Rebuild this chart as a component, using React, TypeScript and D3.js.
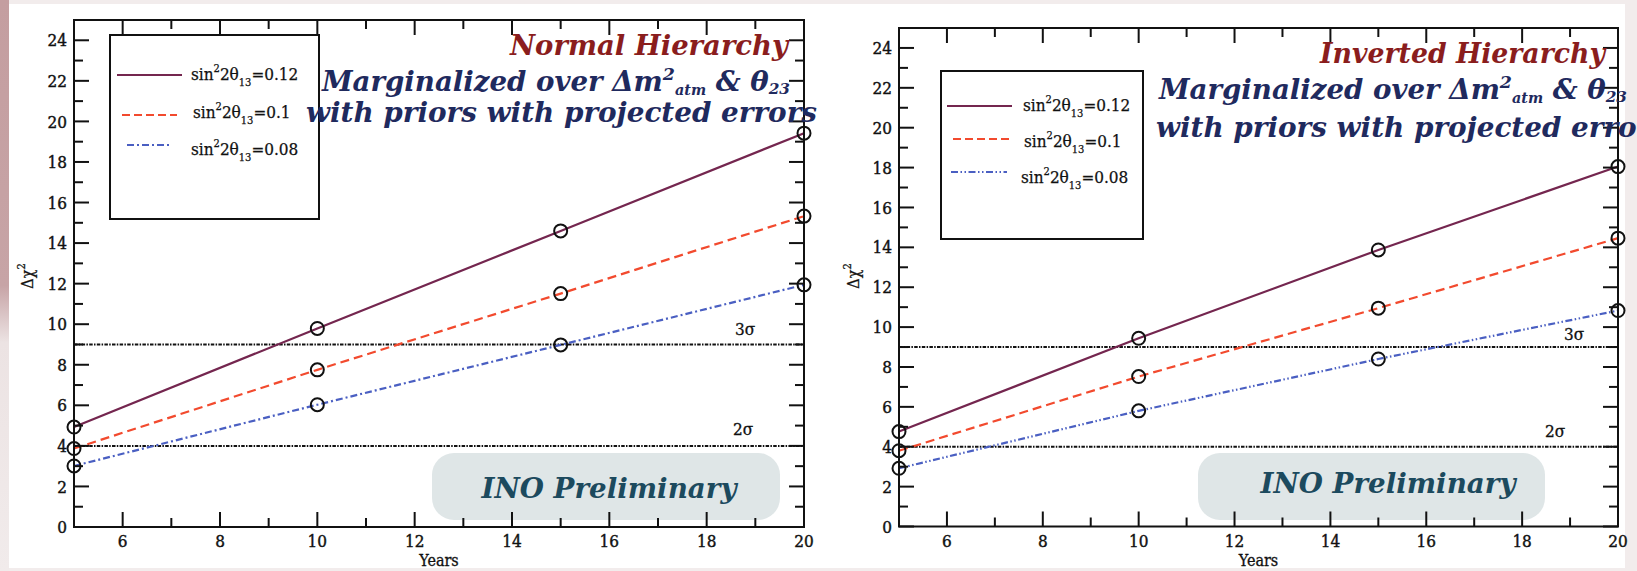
import React from "react";
import * as d3 from "d3";

const years = [5, 10, 15, 20];
const nh012 = [4.93, 9.79, 14.6, 19.42];
const nh010 = [3.87, 7.75, 11.51, 15.33];
const nh008 = [3.01, 6.03, 8.98, 11.94];
const ih012 = [4.76, 9.44, 13.87, 18.05];
const ih010 = [3.8, 7.52, 10.95, 14.46];
const ih008 = [2.92, 5.8, 8.4, 10.83];
const seriesLabels = ["0.12", "0.1", "0.08"];
const sigmaLevels = [9, 4];
const sigmaLabels = ["3σ", "2σ"];
const xMajor = [6, 8, 10, 12, 14, 16, 18, 20];
const xMinor = [7, 9, 11, 13, 15, 17, 19];
const yMajor = [0, 2, 4, 6, 8, 10, 12, 14, 16, 18, 20, 22, 24];
const yMinor = [1, 3, 5, 7, 9, 11, 13, 15, 17, 19, 21, 23];
const xLabel = "Years";

const TICK_FONT = "'DejaVu Serif Condensed', 'DejaVu Serif', serif";
const TITLE_FONT = "'DejaVu Serif', serif";
const COLORS = ["#74264f", "#f24a2e", "#4a5fc2"];

type PanelProps = {
  title: string;
  data: number[][];
  xr: [number, number];
  yr: [number, number];
  legendBox: [number, number, number, number];
  legendRows: { lx0: number; lx1: number; ly: number; tx: number; ty: number }[];
  dash008: string;
  titleRight: number;
  line2Right: number;
  line3Right: number;
  titleY: number[];
  titleW: number;
  sigmaPos: [number, number][];
  ino: { x0: number; x1: number; y0: number; y1: number; tx: number; ty: number };
  yTitleX: number;
};

function LegendText({ x, y, v }: { x: number; y: number; v: string }) {
  return (
    <text x={x} y={y} fontFamily={TICK_FONT} fontSize={17} fill="#111" stroke="#111" strokeWidth={0.25}>
      <tspan>sin</tspan>
      <tspan dy={-8} fontSize={11}>2</tspan>
      <tspan dy={8}>2θ</tspan>
      <tspan dy={6} fontSize={11}>13</tspan>
      <tspan dy={-6}>={v}</tspan>
    </text>
  );
}

function Panel(p: PanelProps) {
  const x = d3.scaleLinear().domain([5, 20]).range(p.xr);
  const y = d3.scaleLinear().domain([0, 25]).range(p.yr);
  const line = d3
    .line<number>()
    .x((_, i) => x(years[i]))
    .y((d) => y(d));
  const dashes = ["none", "9,5", p.dash008];
  const [x0, x1] = p.xr;
  const [yb, yt] = p.yr;
  const mid = (x0 + x1) / 2;
  return (
    <g>
      {sigmaLevels.map((s, i) => (
        <g key={"s" + i}>
          <line x1={x0} x2={x1} y1={y(s)} y2={y(s)} stroke="#111" strokeWidth={2} strokeDasharray="3.5,1.3,1.5,1.3" />
          <text x={p.sigmaPos[i][0]} y={p.sigmaPos[i][1]} textAnchor="middle" fontFamily={TICK_FONT} fontSize={17} fill="#111" stroke="#111" strokeWidth={0.3}>
            {sigmaLabels[i]}
          </text>
        </g>
      ))}
      <rect x={p.ino.x0} y={p.ino.y0} width={p.ino.x1 - p.ino.x0} height={p.ino.y1 - p.ino.y0} rx={22} ry={22} fill="#dfe6e7" />
      <text x={p.ino.tx} y={p.ino.ty} textAnchor="middle" fontFamily={TITLE_FONT} fontWeight="bold" fontStyle="italic" fontSize={28} fill="#1c4a5e" textLength={255} lengthAdjust="spacingAndGlyphs">
        INO Preliminary
      </text>
      {p.data.map((d, i) => (
        <path key={"l" + i} d={line(d) || ""} fill="none" stroke={COLORS[i]} strokeWidth={2.2} strokeDasharray={dashes[i]} />
      ))}
      {p.data.map((d, i) =>
        d.map((v, j) => (
          <circle key={"c" + i + "-" + j} cx={x(years[j])} cy={y(v)} r={6.5} fill="none" stroke="#111" strokeWidth={2} />
        ))
      )}
      <rect x={x0} y={yt} width={x1 - x0} height={yb - yt} fill="none" stroke="#111" strokeWidth={2} />
      {xMajor.map((t) => (
        <g key={"xm" + t}>
          <line x1={x(t)} x2={x(t)} y1={yb} y2={yb - 15} stroke="#111" strokeWidth={2} />
          <line x1={x(t)} x2={x(t)} y1={yt} y2={yt + 15} stroke="#111" strokeWidth={2} />
          <text x={x(t)} y={547} textAnchor="middle" fontFamily={TICK_FONT} fontSize={17} fill="#111" stroke="#111" strokeWidth={0.4}>
            {t}
          </text>
        </g>
      ))}
      {xMinor.map((t) => (
        <g key={"xn" + t}>
          <line x1={x(t)} x2={x(t)} y1={yb} y2={yb - 9} stroke="#111" strokeWidth={2} />
          <line x1={x(t)} x2={x(t)} y1={yt} y2={yt + 9} stroke="#111" strokeWidth={2} />
        </g>
      ))}
      {yMajor.map((t) => (
        <g key={"ym" + t}>
          <line x1={x0} x2={x0 + 15} y1={y(t)} y2={y(t)} stroke="#111" strokeWidth={2} />
          <line x1={x1} x2={x1 - 15} y1={y(t)} y2={y(t)} stroke="#111" strokeWidth={2} />
          <text x={x0 - 7} y={y(t)} dy="0.36em" textAnchor="end" fontFamily={TICK_FONT} fontSize={17} fill="#111" stroke="#111" strokeWidth={0.4}>
            {t}
          </text>
        </g>
      ))}
      {yMinor.map((t) => (
        <g key={"yn" + t}>
          <line x1={x0} x2={x0 + 9} y1={y(t)} y2={y(t)} stroke="#111" strokeWidth={2} />
          <line x1={x1} x2={x1 - 9} y1={y(t)} y2={y(t)} stroke="#111" strokeWidth={2} />
        </g>
      ))}
      <text x={mid} y={566} textAnchor="middle" fontFamily={TICK_FONT} fontSize={16} fill="#111" stroke="#111" strokeWidth={0.3}>
        {xLabel}
      </text>
      <text transform={`translate(${p.yTitleX},276) rotate(-90)`} textAnchor="middle" fontFamily={TICK_FONT} fontSize={16} fill="#111" stroke="#111" strokeWidth={0.3}>
        <tspan>Δχ</tspan>
        <tspan dy={-8} fontSize={11}>2</tspan>
      </text>
      <rect x={p.legendBox[0]} y={p.legendBox[1]} width={p.legendBox[2] - p.legendBox[0]} height={p.legendBox[3] - p.legendBox[1]} fill="#fff" stroke="#111" strokeWidth={2} />
      {p.legendRows.map((r, i) => (
        <g key={"lg" + i}>
          <line x1={r.lx0} x2={r.lx1} y1={r.ly} y2={r.ly} stroke={COLORS[i]} strokeWidth={2} strokeDasharray={i === 0 ? "none" : i === 1 ? "8,4" : p.dash008} />
          <LegendText x={r.tx} y={r.ty} v={seriesLabels[i]} />
        </g>
      ))}
      <text x={p.titleRight} y={p.titleY[0]} textAnchor="end" fontFamily={TITLE_FONT} fontWeight="bold" fontStyle="italic" fontSize={28} fill="#8a1d1d" textLength={p.titleW} lengthAdjust="spacingAndGlyphs">
        {p.title}
      </text>
      <text x={p.line2Right} y={p.titleY[1]} textAnchor="end" fontFamily={TITLE_FONT} fontWeight="bold" fontStyle="italic" fontSize={27} fill="#1f2a5e" textLength={468} lengthAdjust="spacingAndGlyphs">
        <tspan>Marginalized over Δm</tspan>
        <tspan dy={-11} fontSize={17}>2</tspan>
        <tspan dy={15} fontSize={14}>atm</tspan>
        <tspan dy={-4}> &amp; θ</tspan>
        <tspan dy={3} fontSize={15}>23</tspan>
      </text>
      <text x={p.line3Right} y={p.titleY[2]} textAnchor="end" fontFamily={TITLE_FONT} fontWeight="bold" fontStyle="italic" fontSize={27} fill="#1f2a5e" textLength={511} lengthAdjust="spacingAndGlyphs">
        with priors with projected errors
      </text>
    </g>
  );
}

export default function App() {
  return (
    <div style={{ position: "fixed", left: 0, top: 0 }}>
      <svg width={1637} height={571} style={{ display: "block" }}>
        <defs>
          <linearGradient id="leftStrip" x1="0" y1="0" x2="0" y2="1">
            <stop offset="0" stopColor="#c49ea0" />
            <stop offset="0.5" stopColor="#c7a4a6" />
            <stop offset="0.6" stopColor="#ece3e3" />
            <stop offset="1" stopColor="#f1ebeb" />
          </linearGradient>
        </defs>
        <rect x={0} y={0} width={1637} height={571} fill="#f2ecec" />
        <rect x={0} y={0} width={9} height={571} fill="url(#leftStrip)" />
        <rect x={9} y={4} width={1616} height={564} fill="#ffffff" />
        <Panel
          title="Normal Hierarchy"
          data={[nh012, nh010, nh008]}
          xr={[74, 804]}
          yr={[527, 20]}
          legendBox={[110, 35, 319, 219]}
          legendRows={[
            { lx0: 117, lx1: 182, ly: 75, tx: 191, ty: 80 },
            { lx0: 122, lx1: 177, ly: 115, tx: 193, ty: 118 },
            { lx0: 127, lx1: 172, ly: 145, tx: 191, ty: 155 },
          ]}
          dash008="7,3,2,3"
          titleRight={788}
          line2Right={790}
          line3Right={817}
          titleY={[55, 91, 122]}
          titleW={278}
          sigmaPos={[
            [745, 335],
            [743, 435],
          ]}
          ino={{ x0: 432, x1: 780, y0: 453, y1: 520, tx: 609, ty: 498 }}
          yTitleX={33}
        />
        <Panel
          title="Inverted Hierarchy"
          data={[ih012, ih010, ih008]}
          xr={[899, 1618]}
          yr={[526.5, 28]}
          legendBox={[941, 71, 1143, 239]}
          legendRows={[
            { lx0: 947, lx1: 1012, ly: 106, tx: 1023, ty: 111 },
            { lx0: 953, lx1: 1009, ly: 139, tx: 1024, ty: 147 },
            { lx0: 951, lx1: 1007, ly: 172, tx: 1021, ty: 183 },
          ]}
          dash008="7,2.5,1.5,2.5,1.5,2.5"
          titleRight={1605}
          line2Right={1627}
          line3Right={1667}
          titleY={[63, 99, 137]}
          titleW={285}
          sigmaPos={[
            [1574, 340],
            [1555, 437],
          ]}
          ino={{ x0: 1198, x1: 1545, y0: 453, y1: 520, tx: 1388, ty: 493 }}
          yTitleX={859}
        />
      </svg>
    </div>
  );
}
